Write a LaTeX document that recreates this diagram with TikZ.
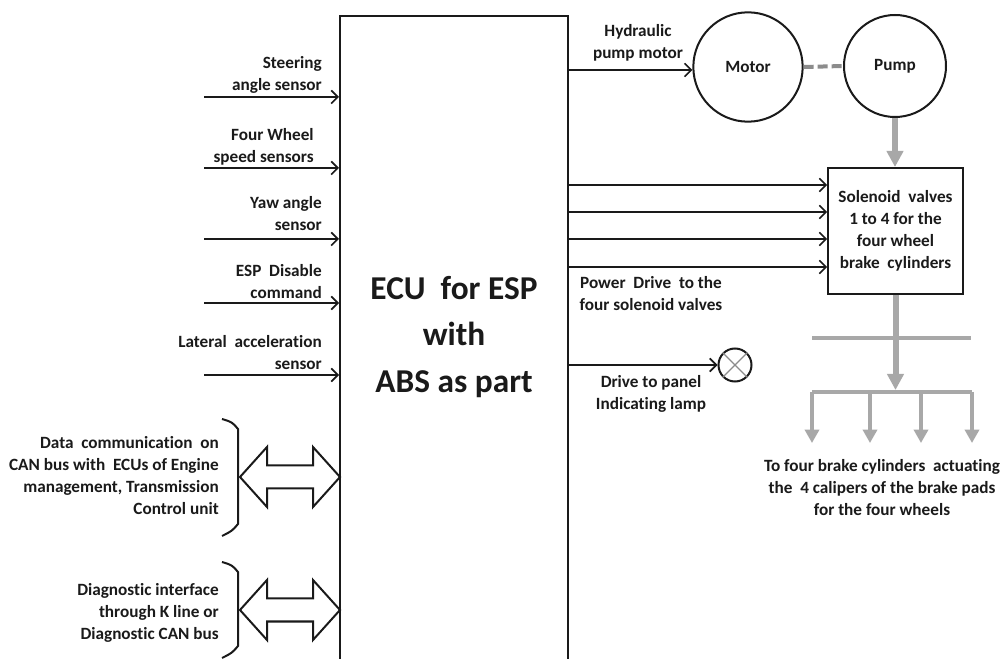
\documentclass[tikz,border=0pt]{standalone}
\usepackage{fontspec}
\setmainfont{Carlito}[Ligatures=NoCommon]
\usetikzlibrary{arrows.meta}
\definecolor{ink}{HTML}{1A1A1A}
\definecolor{hyd}{HTML}{A8A8A8}
\definecolor{hyddark}{HTML}{8C8C8C}
\tikzset{
  lbl/.style={inner sep=0pt, text=ink, font=\fontsize{12.9}{16.5}\selectfont\bfseries},
  bigtxt/.style={inner sep=0pt, text=ink, font=\fontsize{25}{35}\selectfont\bfseries, align=center},
  blk/.style={draw=ink, line width=1.5pt},
  sig/.style={draw=ink, line width=1.5pt, -{Straight Barb[length=5pt,width=10pt,line width=1.2pt]}},
  hydmain/.style={draw=hyd, line width=4.5pt, -{Triangle[width=12pt,length=12pt]}},
  hydbar/.style={draw=hyd, line width=3pt},
  hydtap/.style={draw=hyd, line width=3pt, -{Triangle[width=10.5pt,length=10pt]}},
  dblarrow/.pic={
    \draw[blk, fill=white, line join=miter]
      (-50,0) -- (-23,-30) -- (-23,-11.5) -- (23,-11.5) -- (23,-30) -- (50,0)
      -- (23,30) -- (23,11.5) -- (-23,11.5) -- (-23,30) -- cycle;
  }
}
\begin{document}
\begin{tikzpicture}[x=0.75pt,y=-0.75pt]
\useasboundingbox (0,0) rectangle (1001,659);
\fill[white] (0,0) rectangle (1001,659);
\clip (0,0) rectangle (1001,659);

% central control unit
\node[blk, minimum width=171pt, minimum height=528pt] (ecu) at (454,368) {};
\node[bigtxt] (ecut) at (454,337) {ECU~~for ESP\\with\\ABS as part};

% sensor inputs
\node[lbl, align=right, anchor=east] (l1) at (322,74.5) {Steering\\angle sensor};
\node[lbl, align=right, anchor=east] (l2) at (314,146.5) {Four Wheel\\speed sensors};
\node[lbl, align=right, anchor=east] (l3) at (322,213.5) {Yaw angle\\sensor};
\node[lbl, align=right, anchor=east] (l4) at (322,282) {ESP~~Disable\\command};
\node[lbl, align=right, anchor=east] (l5) at (322,353) {Lateral~~acceleration\\sensor};
\coordinate (i1) at (204,97);
\coordinate (i2) at (204,168);
\coordinate (i3) at (204,239);
\coordinate (i4) at (204,303);
\coordinate (i5) at (204,375);
\foreach \c in {i1,i2,i3,i4,i5}
  \draw[sig] (\c) -- (\c -| ecu.west);

% bus interfaces
\draw[blk] (222,419) .. controls (232,422) .. (238,429) -- (238,524) .. controls (232,531) .. (222,536);
\pic at (290,477) {dblarrow};
\node[lbl, align=right, anchor=east] (canl) at (219,476)
  {Data~~communication~~on\\CAN bus with~~ECUs of Engine\\management, Transmission\\Control unit};
\draw[blk] (222,562) .. controls (232,565) .. (238,572) -- (238,646) .. controls (232,653) .. (222,658);
\pic at (290,610) {dblarrow};
\node[lbl, align=right, anchor=east] (diagl) at (219,613)
  {Diagnostic interface\\through K line or\\Diagnostic CAN bus};

% hydraulic unit
\node[blk, circle, minimum size=82pt, inner sep=0pt] (motor) at (748,67) {};
\node[lbl] at (motor) {Motor};
\node[blk, circle, minimum size=76.5pt, inner sep=0pt] (pump) at (895,66) {};
\node[lbl] at (pump) {Pump};
\draw[hyddark, line width=3pt, dash pattern=on 7.5pt off 3pt] (motor.east) -- (pump.west);
\coordinate (hp) at (568,70);
\draw[sig] (hp -| ecu.east) -- (hp -| motor.west);
\node[lbl, align=center] (hpl) at (638,43) {Hydraulic\\pump motor};

% solenoid valves
\node[blk, minimum width=101pt, minimum height=94.5pt, lbl, align=center] (sol) at (895.5,231)
  {Solenoid~~valves\\1 to 4 for the\\four wheel\\brake~~cylinders};
\draw[hydmain] (pump.south) -- (pump.south |- sol.north);
\foreach \yy in {185,212,239,267}
  \draw[sig] (ecu.east |- 0,\yy) -- (sol.west |- 0,\yy);
\node[lbl, align=center] (pdl) at (651,293.5) {Power~~Drive~~to the\\four solenoid valves};

% warning lamp
\node[blk, circle, minimum size=24.75pt, inner sep=0pt] (lamp) at (735,365) {};
\draw[hyddark, line width=0.9pt] (lamp.north east) -- (lamp.south west)
  (lamp.north west) -- (lamp.south east);
\draw[sig] (ecu.east |- lamp) -- (lamp.west);
\node[lbl, align=center] (dpl) at (651,393.5) {Drive to panel\\Indicating lamp};

% brake line distribution
\coordinate (b1l) at (812,338);
\coordinate (b1r) at (971,338);
\draw[hydbar] (b1l) -- (b1r);
\coordinate (b2l) at (812,392);
\coordinate (b2r) at (972,392);
\draw[hydmain] (sol.south) -- (sol.south |- 0,390);
\draw[hydbar] (b2l) -- (b2r);
\foreach \xx in {812,870,921,972}
  \draw[hydtap] (\xx,392) -- (\xx,443);
\node[lbl, align=center] (btl) at (882,488)
  {To four brake cylinders~~actuating\\the~~4 calipers of the brake pads\\for the four wheels};
\end{tikzpicture}
\end{document}
